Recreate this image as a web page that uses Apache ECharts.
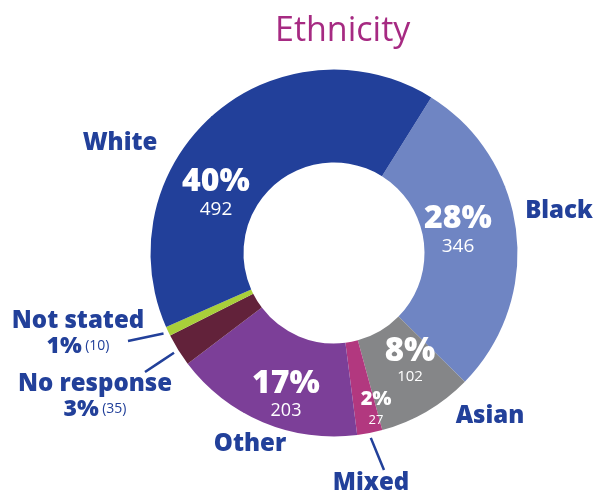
<!DOCTYPE html>
<html><head><meta charset="utf-8">
<script src="https://cdn.jsdelivr.net/npm/echarts@6/dist/echarts.min.js"></script>
<style>html,body{margin:0;padding:0;background:#fff}#c{width:595px;height:495px}</style>
</head><body><div id="c"></div>
<script>
// ---- data ----
const categories = ['Black', 'Asian', 'Mixed', 'Other', 'No response', 'Not stated', 'White'];
const counts = [346, 102, 27, 203, 35, 10, 492];
const colors = ['#6F85C3', '#858688', '#B2387F', '#7C3F98', '#62223A', '#A8CF3A', '#22409A'];
const chartTitle = 'Ethnicity';

// ---- derived ----
const total = counts.reduce((a, b) => a + b, 0);
const pct = v => Math.round(v / total * 100) + '%';

// ---- layout / style ----
const NAVY = '#22409A';
const FONT = '"Open Sans", "Noto Sans", sans-serif';
const HEAVY = 800;
const CX = 334, CY = 253, R0 = 90.5, R1 = 183.5, START = 58;

const inside = {
  'Black': {ps: 32, ns: 19, pl: 30, nl: 26, x: 458, y: 232},
  'Asian': {ps: 33, ns: 15, pl: 30, nl: 20, x: 410, y: 362},
  'Mixed': {ps: 20, ns: 13, pl: 22, nl: 20, x: 376, y: 409},
  'Other': {ps: 32, ns: 18, pl: 30, nl: 24, x: 286, y: 396},
  'White': {ps: 32, ns: 19, pl: 30, nl: 26, x: 216, y: 195}
};
const outside = {
  'Black': {x: 559, y: 211},
  'Asian': {x: 490, y: 416},
  'Mixed': {x: 371, y: 483, line: [384, 470]},
  'Other': {x: 250, y: 444},
  'No response': {x: 95, y: 396, line: [145, 372], detail: true},
  'Not stated': {x: 78, y: 333, line: [128, 341], detail: true},
  'White': {x: 120, y: 143}
};

const midAngles = [];
(function () {
  let cum = 0;
  counts.forEach(v => { midAngles.push((90 - START) + 360 * (cum + v / 2) / total); cum += v; });
})();
function polar(deg, r) {
  const a = deg * Math.PI / 180;
  return [CX + r * Math.sin(a), CY - r * Math.cos(a)];
}

const innerRich = {};
const insideKeys = Object.keys(inside);
insideKeys.forEach((k, i) => {
  const s = inside[k];
  innerRich['p' + i] = {fontSize: s.ps, fontWeight: HEAVY, color: '#fff', lineHeight: s.pl, fontFamily: FONT};
  innerRich['n' + i] = {fontSize: s.ns, color: '#fff', lineHeight: s.nl, fontFamily: FONT};
});

const data1 = categories.map((name, i) => ({
  name, value: counts[i],
  itemStyle: {color: colors[i]},
  label: {show: !!inside[name]}
}));
const data2 = categories.map((name, i) => ({
  name, value: counts[i],
  itemStyle: {color: 'rgba(0,0,0,0)'},
  labelLine: {show: !!outside[name].line}
}));

const chart = echarts.init(document.getElementById('c'), null, {renderer: 'canvas'});
chart.setOption({
  animation: false,
  backgroundColor: '#fff',
  title: {
    text: chartTitle, left: 270, top: 9,
    textStyle: {color: '#A62A82', fontSize: 34, fontWeight: 'normal', fontFamily: FONT}
  },
  series: [
    {
      type: 'pie', center: [CX, CY], radius: [R0, R1], startAngle: START, clockwise: true,
      silent: true, avoidLabelOverlap: false,
      itemStyle: {borderWidth: 0},
      label: {
        position: 'inside',
        formatter: p => {
          const k = insideKeys.indexOf(p.name);
          return '{p' + k + '|' + pct(p.value) + '}\n{n' + k + '|' + p.value + '}';
        },
        rich: innerRich
      },
      labelLayout: p => {
        const s = inside[categories[p.dataIndex]];
        if (!s) return {};
        return {x: s.x, y: s.y, align: 'center', verticalAlign: 'middle'};
      },
      data: data1
    },
    {
      type: 'pie', center: [CX, CY], radius: [R0, R1], startAngle: START, clockwise: true,
      silent: true, avoidLabelOverlap: false, z: 3,
      label: {
        position: 'outside',
        formatter: p => {
          const o = outside[p.name];
          if (o.detail) return '{name|' + p.name + '}\n{bp|' + pct(p.value) + '} {sm|(' + p.value + ')}';
          return '{name|' + p.name + '}';
        },
        rich: {
          name: {fontSize: 24, fontWeight: HEAVY, color: NAVY, lineHeight: 26, fontFamily: FONT},
          bp: {fontSize: 23, fontWeight: HEAVY, color: NAVY, lineHeight: 24, fontFamily: FONT},
          sm: {fontSize: 14, color: NAVY, lineHeight: 24, fontFamily: FONT}
        }
      },
      labelLine: {show: false, lineStyle: {color: NAVY, width: 2.5}},
      labelLayout: p => {
        const name = categories[p.dataIndex];
        const o = outside[name];
        const res = {x: o.x, y: o.y, align: 'center', verticalAlign: 'middle'};
        if (o.line) {
          const s = polar(midAngles[p.dataIndex], R1 + 5);
          res.labelLinePoints = [s, [(s[0] + o.line[0]) / 2, (s[1] + o.line[1]) / 2], o.line];
        }
        return res;
      },
      data: data2
    }
  ]
});
</script>
</body></html>
